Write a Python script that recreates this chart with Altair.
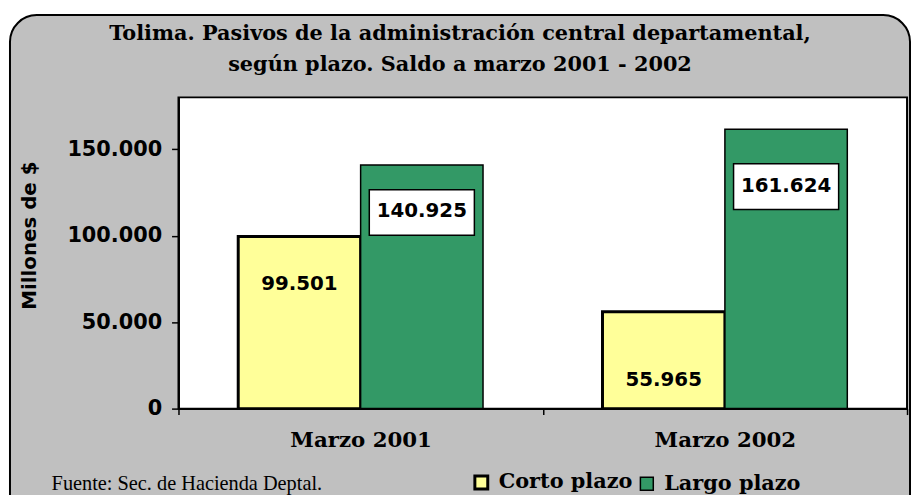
import altair as alt
import pandas as pd

# ---------------- data ----------------
periods = ["Marzo 2001", "Marzo 2002"]
series = ["Corto plazo", "Largo plazo"]
corto_plazo = [99501, 55965]
largo_plazo = [140925, 161624]
y_ticks = [0, 50000, 100000, 150000]
title_lines = ["Tolima. Pasivos de la administración central departamental,",
               "según plazo. Saldo a marzo 2001 - 2002"]
source_text = "Fuente: Sec. de Hacienda Deptal."
y_title = "Millones de $"

rows = []
for i, p in enumerate(periods):
    rows.append({"period": p, "series": series[0], "value": corto_plazo[i]})
    rows.append({"period": p, "series": series[1], "value": largo_plazo[i]})
df = pd.DataFrame(rows)

# ---------------- styles ----------------
W, H = 735, 314
FILLS = ["#FFFF99", "#339966"]
SERIF = "DejaVu Serif"
SANS = "DejaVu Sans"

base = alt.Chart(df).transform_calculate(
    label="replace(format(datum.value, ','), ',', '.')"
)

x_enc = alt.X(
    "period:N", sort=periods, title=None,
    scale=alt.Scale(paddingInner=0, paddingOuter=0),
    axis=alt.Axis(labelFont=SERIF, labelFontSize=21.5, labelFontWeight="bold",
                  labelColor="black", labelAngle=0, labelPadding=15,
                  tickSize=6, tickColor="black", tickWidth=1.5, tickBand="extent",
                  domainColor="black", domainWidth=2, grid=False, zindex=1),
)
xo_enc = alt.XOffset("series:N", sort=series,
                     scale=alt.Scale(paddingInner=0, paddingOuter=0.488))
y_enc = alt.Y(
    "value:Q", stack=None,
    scale=alt.Scale(domain=[0, 180000], nice=False),
    axis=alt.Axis(values=y_ticks, title=y_title,
                  labelExpr="replace(format(datum.value, ','), ',', '.')",
                  labelFont=SANS, labelFontSize=21, labelFontWeight="bold",
                  labelColor="black", labelPadding=10,
                  tickSize=7, tickColor="black", tickWidth=1.5,
                  domainColor="black", domainWidth=2, grid=False,
                  titleFont=SANS, titleFontSize=20, titleFontWeight="bold",
                  titleColor="black", titleX=-150, titleY=139,
                  titleAlign="center", titleBaseline="middle", zindex=1),
)

one = pd.DataFrame({"k": [0]})
frame = alt.Chart(one).mark_rect(
    fill="#C0C0C0", stroke="black", strokeWidth=2, cornerRadius=27
).encode(x=alt.value(-170), x2=alt.value(738), y=alt.value(-83), y2=alt.value(440))

plot_bg = alt.Chart(one).mark_rect(
    fill="white", stroke="black", strokeWidth=2
).encode(x=alt.value(0), x2=alt.value(W), y=alt.value(0), y2=alt.value(H))

title1 = alt.Chart(one).mark_text(
    font=SERIF, fontSize=21, fontWeight="bold", color="black",
    align="center", baseline="alphabetic",
).encode(x=alt.value(284), y=alt.value(-58), text=alt.value(title_lines[0]))
title2 = alt.Chart(one).mark_text(
    font=SERIF, fontSize=21, fontWeight="bold", color="black",
    align="center", baseline="alphabetic",
).encode(x=alt.value(284), y=alt.value(-27), text=alt.value(title_lines[1]))

bars = base.mark_bar(stroke="black").encode(
    x=x_enc, xOffset=xo_enc, y=y_enc,
    color=alt.Color(
        "series:N", sort=series,
        scale=alt.Scale(domain=series, range=FILLS),
        legend=alt.Legend(
            title=None, orient="none", legendX=295, legendY=378,
            direction="horizontal", symbolType="square", symbolSize=169,
            symbolStrokeColor="black", symbolStrokeWidth=2, symbolOpacity=1,
            labelFont=SERIF, labelFontSize=21, labelFontWeight="bold",
            labelColor="black", labelOffset=7, columnPadding=3, padding=0,
            labelLimit=300, zindex=1,
        ),
    ),
    strokeWidth=alt.StrokeWidth("series:N", sort=series,
                                scale=alt.Scale(domain=series, range=[3, 1.5]),
                                legend=None),
)

# label placements (pixel offsets below the bar top), per period / series
label_layers = []
corto_dy = {periods[0]: 48, periods[1]: 69}
largo_dy = {periods[0]: 47, periods[1]: 57}
box_top = {periods[0]: 25, periods[1]: 35}
for p in periods:
    fc = (alt.datum.period == p) & (alt.datum.series == series[0])
    fl = (alt.datum.period == p) & (alt.datum.series == series[1])
    label_layers.append(
        base.transform_filter(fl).mark_bar(
            width=106, fill="white", stroke="black", strokeWidth=1.5,
            yOffset=box_top[p], y2Offset=box_top[p] + 46,
        ).encode(x=alt.X("period:N", sort=periods), xOffset=xo_enc,
                 y=alt.Y("value:Q"), y2="value:Q")
    )
    label_layers.append(
        base.transform_filter(fc).mark_text(
            font=SANS, fontSize=20, fontWeight="bold", color="black",
            baseline="middle", dy=corto_dy[p],
        ).encode(x=alt.X("period:N", sort=periods), xOffset=xo_enc,
                 y=alt.Y("value:Q"), text="label:N")
    )
    label_layers.append(
        base.transform_filter(fl).mark_text(
            font=SANS, fontSize=20, fontWeight="bold", color="black",
            baseline="middle", dy=largo_dy[p],
        ).encode(x=alt.X("period:N", sort=periods), xOffset=xo_enc,
                 y=alt.Y("value:Q"), text="label:N")
    )

source = alt.Chart(one).mark_text(
    font="Liberation Serif", fontSize=20.5, color="black", align="left",
    baseline="alphabetic",
).encode(x=alt.value(-128), y=alt.value(396), text=alt.value(source_text))

chart = alt.layer(frame, plot_bg, title1, title2, bars, *label_layers, source).properties(
    width=W, height=H,
    padding={"left": 172, "top": 88, "right": 4, "bottom": 87},
    autosize=alt.AutoSizeParams(type="none"),
    background="white",
).configure_view(stroke=None)

chart.save("out.html", embed_options={"renderer": "svg", "actions": False})
